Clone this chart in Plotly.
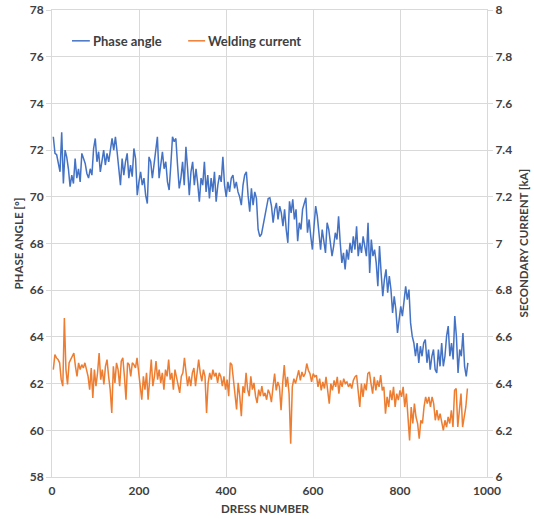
import numpy as np
import plotly.graph_objects as go

# Phase angle [deg], dress numbers ~3..497 then ~500..956
phase_a = [72.57, 71.86, 71.8, 71.5, 71.07, 72.76, 70.57, 72, 71.7, 71.2,
           70.43, 70.93, 70.57, 71.64, 70.8, 71.2, 70.64, 71.86, 71.64, 71.43,
           71.0, 70.8, 71.2, 70.93, 72.07, 72.5, 71.5, 71.93, 71.07, 71.5,
           72, 71.36, 71.86, 71.5, 71.93, 72.5, 72, 72.57, 71.93, 71.2,
           70.5, 71.64, 70.93, 71.5, 71.86, 70.8, 71.36, 70.86, 72.07, 71.64,
           70.07, 70.64, 71.07, 70.5, 70.8, 70.07, 69.71, 71.71, 71.5, 70.8,
           71.36, 71.93, 72.57, 70.8, 71.5, 71.93, 71.2, 71.5, 70.64, 70.29,
           71.36, 72.57, 72.36, 72.5, 71.36, 70.36, 70.8, 71.5, 70.5, 72.14,
           71.2, 70.07, 71.07, 71.5, 70.5, 71.2, 70.57, 69.79, 70.8, 70.5,
           71.5, 70.21, 70.93, 69.93, 70.8, 70.21, 71.07, 69.79, 70.5, 70.93,
           70.64, 71.71, 70.5, 70, 70.64, 70.21, 70.8, 70.93, 70.36, 70.64,
           70.21, 70, 69.64, 70.5, 70.93, 71.07, 70.07, 69.36, 70.36, 69.64,
           70.21, 69.93, 68.6, 68.3, 68.4, 68.8, 69.2, 69.64, 69.93]
phase_b = [69.96, 69.6, 68.89, 69.46, 69.74, 69.03, 69.6, 69.31, 68.74, 69.46,
           68.6, 68.03, 69.81, 69.31, 69.89, 69.03, 69.46, 68.1, 68.89, 68.6,
           69.46, 69.74, 69.96, 68.46, 69.03, 68.31, 67.74, 68.74, 69.6, 69.17,
           68.31, 67.74, 68.6, 68.17, 67.6, 68.89, 68.6, 68.03, 67.46, 67.89,
           68.46, 68.17, 69.17, 68.03, 67.17, 67.6, 66.89, 67.74, 67.31, 68.03,
           67.6, 68.31, 67.74, 68.74, 67.46, 68.03, 67.6, 68.31, 67.89, 67.46,
           68.89, 66.74, 68.17, 67.46, 67.74, 67.17, 66.17, 67.89, 66.74, 65.74,
           66.46, 66.89, 65.89, 66.6, 66.03, 65.03, 65.74, 65.17, 64.17, 64.89,
           65.31, 64.89, 65.6, 66.17, 65.6, 66.03, 64.6, 64.03, 63.74, 63.17,
           63.74, 62.89, 63.6, 63.17, 63.74, 63.89, 62.89, 63.46, 62.6, 63.17,
           63.46, 62.6, 62.46, 63.46, 62.74, 63.74, 62.74, 63.17, 64.03, 64.46,
           63.17, 63.74, 63.03, 64.89, 64.03, 62.46, 63.46, 63.17, 64.17, 62.74,
           62.31, 62.89]

# Welding (secondary) current [kA]
current_a = [6.46, 6.524, 6.51, 6.503, 6.489, 6.417, 6.389, 6.681, 6.46, 6.396,
             6.489, 6.503, 6.51, 6.531, 6.474, 6.431, 6.489, 6.46, 6.481, 6.467,
             6.489, 6.453, 6.431, 6.374, 6.467, 6.339, 6.46, 6.389, 6.446, 6.531,
             6.417, 6.46, 6.396, 6.474, 6.503, 6.431, 6.374, 6.274, 6.474, 6.403,
             6.489, 6.46, 6.389, 6.496, 6.51, 6.431, 6.331, 6.489, 6.481, 6.431,
             6.489, 6.481, 6.467, 6.51, 6.46, 6.389, 6.331, 6.431, 6.374, 6.446,
             6.331, 6.417, 6.503, 6.389, 6.431, 6.496, 6.417, 6.46, 6.403, 6.446,
             6.374, 6.46, 6.431, 6.503, 6.417, 6.446, 6.374, 6.46, 6.431, 6.396,
             6.36, 6.431, 6.446, 6.51, 6.46, 6.389, 6.431, 6.389, 6.446, 6.467,
             6.389, 6.46, 6.503, 6.446, 6.41, 6.46, 6.431, 6.274, 6.403, 6.446,
             6.417, 6.46, 6.431, 6.446, 6.403, 6.446, 6.431, 6.389, 6.431, 6.374,
             6.417, 6.346, 6.489, 6.481, 6.417, 6.374, 6.289, 6.403, 6.346, 6.26,
             6.389, 6.36, 6.446, 6.374, 6.346, 6.431, 6.374, 6.403, 6.346, 6.317,
             6.374, 6.346, 6.389, 6.346, 6.36, 6.331, 6.374]
current_b = [6.357, 6.321, 6.386, 6.443, 6.371, 6.407, 6.386, 6.286, 6.4, 6.479,
             6.386, 6.429, 6.357, 6.143, 6.386, 6.421, 6.4, 6.429, 6.457, 6.414,
             6.45, 6.429, 6.443, 6.486, 6.457, 6.443, 6.407, 6.443, 6.429, 6.436,
             6.386, 6.421, 6.371, 6.407, 6.379, 6.429, 6.357, 6.314, 6.4, 6.371,
             6.414, 6.386, 6.429, 6.357, 6.414, 6.386, 6.421, 6.4, 6.407, 6.386,
             6.4, 6.379, 6.414, 6.429, 6.436, 6.371, 6.3, 6.4, 6.343, 6.4,
             6.371, 6.443, 6.45, 6.4, 6.357, 6.429, 6.371, 6.414, 6.386, 6.436,
             6.371, 6.386, 6.271, 6.343, 6.3, 6.371, 6.329, 6.386, 6.3, 6.357,
             6.329, 6.371, 6.343, 6.386, 6.3, 6.357, 6.271, 6.157, 6.3, 6.229,
             6.314, 6.257, 6.229, 6.164, 6.243, 6.229, 6.3, 6.343, 6.314, 6.343,
             6.3, 6.343, 6.314, 6.243, 6.286, 6.243, 6.271, 6.229, 6.2, 6.243,
             6.214, 6.257, 6.229, 6.286, 6.214, 6.371, 6.379, 6.214, 6.3, 6.357,
             6.214, 6.257, 6.3, 6.379]

phase = phase_a + phase_b
current = current_a + current_b
dress_phase = list(np.linspace(3, 497, len(phase_a))) + list(np.linspace(500.8, 956, len(phase_b)))
dress_current = list(np.linspace(3, 497, len(current_a))) + list(np.linspace(500.7, 955, len(current_b)))

x_ticks = [0, 200, 400, 600, 800, 1000]
left_ticks = [58, 60, 62, 64, 66, 68, 70, 72, 74, 76, 78]
right_ticks = [6, 6.2, 6.4, 6.6, 6.8, 7, 7.2, 7.4, 7.6, 7.8, 8]
series_names = ["Phase angle", "Welding current"]

BLUE = "#4472C4"
ORANGE = "#ED7D31"
GRID = "#D9D9D9"
TXT = "#404040"
FONT = "Lato"
tickfont = dict(family=FONT, size=12, color=TXT, weight="bold")
titlefont = dict(family=FONT, size=11.5, color=TXT, weight="bold")

fig = go.Figure()
fig.add_trace(go.Scatter(x=dress_phase, y=phase, mode="lines", name=series_names[0],
                         line=dict(color=BLUE, width=1.5)))
fig.add_trace(go.Scatter(x=dress_current, y=current, mode="lines", name=series_names[1],
                         line=dict(color=ORANGE, width=1.5), yaxis="y2"))

fig.update_layout(
    width=534, height=519,
    margin=dict(l=52, r=47, t=10, b=42),
    paper_bgcolor="white", plot_bgcolor="white",
    font=dict(family=FONT, size=11, color=TXT, weight="bold"),
    showlegend=False,
    xaxis=dict(range=[0, 1000], tickvals=x_ticks, showgrid=True, gridcolor=GRID, gridwidth=1,
               zeroline=False, showline=True, linecolor=GRID, linewidth=1, mirror=True,
               ticks="outside", ticklen=3, tickcolor="rgba(0,0,0,0)", tickfont=tickfont, automargin=False),
    yaxis=dict(range=[58, 78], tickvals=left_ticks, showgrid=True, gridcolor=GRID, gridwidth=1,
               zeroline=False, showline=True, linecolor=GRID, linewidth=1,
               ticks="outside", ticklen=5, tickcolor=GRID, tickfont=tickfont, automargin=False),
    yaxis2=dict(range=[6, 8], tickvals=right_ticks, overlaying="y", side="right",
                showgrid=False, zeroline=False, showline=True, linecolor=GRID, linewidth=1,
                ticks="outside", ticklen=5, tickcolor=GRID, tickfont=tickfont, automargin=False),
)

# axis titles
fig.add_annotation(text="DRESS NUMBER", xref="paper", yref="paper", x=0.49, y=-0.068,
                   showarrow=False, font=titlefont, xanchor="center", yanchor="middle")
fig.add_annotation(text="PHASE ANGLE [°]", xref="paper", yref="paper", x=-0.078, y=0.5,
                   showarrow=False, font=titlefont, textangle=-90, xanchor="center", yanchor="middle")
fig.add_annotation(text="SECONDARY CURRENT [kA]", xref="paper", yref="paper", x=1.085, y=0.5,
                   showarrow=False, font=titlefont, textangle=-90, xanchor="center", yanchor="middle")

# legend (drawn in the top-left of the plot area)
leg_y = 0.934
for (x0, x1, col, name) in [(0.046, 0.087, BLUE, series_names[0]), (0.313, 0.352, ORANGE, series_names[1])]:
    fig.add_shape(type="line", xref="paper", yref="paper", x0=x0, x1=x1, y0=leg_y, y1=leg_y,
                  line=dict(color=col, width=1.5))
    fig.add_annotation(text=name, xref="paper", yref="paper", x=x1 + 0.002, y=leg_y,
                       showarrow=False, xanchor="left", yanchor="middle",
                       font=dict(family=FONT, size=13, color=TXT, weight="bold"))

# remove the default 8 px page margin so the figure fills the window exactly
fig.write_html("out.html", config={"displayModeBar": False},
               post_script="document.body.style.margin='0';")
